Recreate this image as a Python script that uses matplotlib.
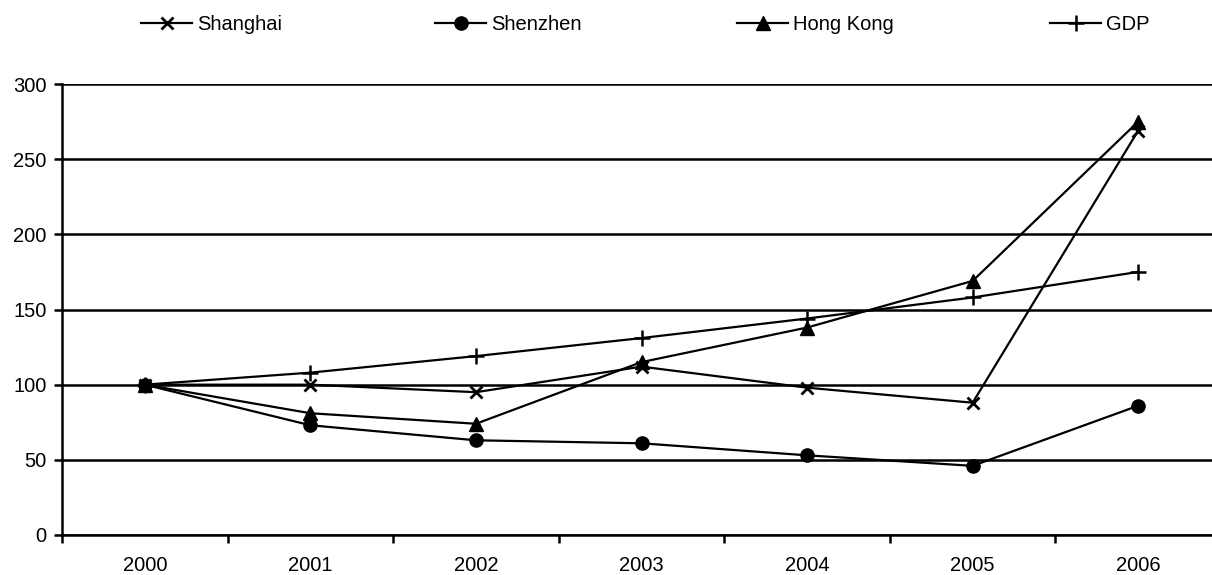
import matplotlib
matplotlib.use("Agg")
from matplotlib import pyplot as plt
from matplotlib.ticker import FixedLocator

plt.rcParams['font.family'] = ['Liberation Sans', 'DejaVu Sans']

years = ["2000", "2001", "2002", "2003", "2004", "2005", "2006"]
shanghai = [100, 100, 95, 112, 98, 88, 269]
shenzhen = [100, 73, 63, 61, 53, 46, 86]
hong_kong = [100, 81, 74, 115, 138, 169, 275]
gdp = [100, 108, 119, 131, 144, 158, 175]

W, H = 1212, 575
fs = 14.5
fig = plt.figure(figsize=(W / 100, H / 100), dpi=100)
# plot area runs a little past the right edge of the image
ax = fig.add_axes([62 / W, 40 / H, (1221 - 62) / W, 451 / H])

x = list(range(len(years)))
lw = 1.6
h1, = ax.plot(x, shanghai, color="black", lw=lw, marker="x", ms=9, mew=2, label="Shanghai")
h2, = ax.plot(x, shenzhen, color="black", lw=lw, marker="o", ms=9.5, label="Shenzhen")
h3, = ax.plot(x, hong_kong, color="black", lw=lw, marker="^", ms=9.5, label="Hong Kong")
h4, = ax.plot(x, gdp, color="black", lw=lw, marker="+", ms=11, mew=1.8, label="GDP")

ax.set_xlim(-0.5, len(years) - 0.5)
ax.set_ylim(0, 300)
ax.set_yticks(range(0, 301, 50))
ax.yaxis.grid(True, color="black", lw=1.8)
ax.set_axisbelow(True)

ax.set_xticks(x)
ax.set_xticklabels(years)
ax.xaxis.set_minor_locator(FixedLocator([i - 0.5 for i in range(len(years) + 1)]))
ax.tick_params(axis="x", which="major", length=0, pad=15, labelsize=fs)
ax.tick_params(axis="x", which="minor", length=6, width=1.8, direction="out")
ax.tick_params(axis="y", length=6, width=1.8, pad=5, labelsize=fs)

for side in ["top", "right"]:
    ax.spines[side].set_visible(False)
for side in ["left", "bottom"]:
    ax.spines[side].set_linewidth(1.8)

# one legend entry per series, spread across the top
legend_x = [141, 435, 737, 1050]
for h, lx in zip([h1, h2, h3, h4], legend_x):
    fig.legend([h], [h.get_label()], loc="center left",
               bbox_to_anchor=(lx / W, 1 - 25 / H), frameon=False,
               handlelength=2.55, handletextpad=0.25, borderpad=0,
               borderaxespad=0, fontsize=fs)

plt.savefig("out.png", dpi=100)
